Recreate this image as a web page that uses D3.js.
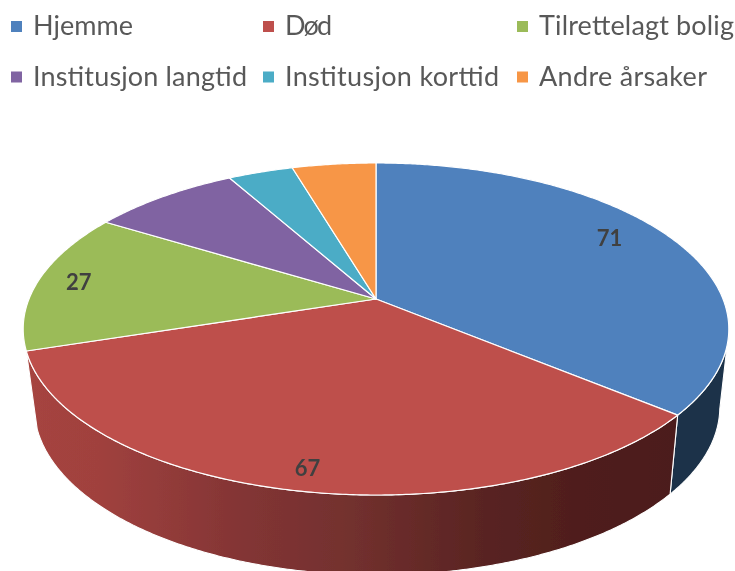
<!DOCTYPE html>
<html><head><meta charset="utf-8">
<script src="https://cdn.jsdelivr.net/npm/d3@7"></script>
<style>html,body{margin:0;padding:0;background:#fff}svg{display:block}</style>
</head><body><svg id="c" width="735" height="571"></svg>
<script>
const categories = ["Hjemme","Død","Tilrettelagt bolig","Institusjon langtid","Institusjon korttid","Andre årsaker"];
const values = [71,67,27,16,7,9];
const colors = ["#4F81BD","#BE4F4C","#9BBB59","#8064A2","#4BACC6","#F79646"];
const shownLabels = [true,true,true,false,false,false];

const svg = d3.select("#c");
const cols=[11,263,517], rows=[21,71.5];
const apex={x:376,y:299}, topFace={cy:329,rx:353,ry:166}, botFace={cx:377,cy:407,rx:343,ry:168};
const p=0.1807,A=347,B=160.6;

// perspective projection of the unit disc to the top face
function proj(t,r){
  const u=r*Math.sin(t), v=-r*Math.cos(t), k=1-p*v;
  return [apex.x+A*u/k, apex.y+B*v/k];
}
function down(P){
  const ex=(P[0]-apex.x)/topFace.rx, ey=(P[1]-topFace.cy)/topFace.ry;
  return [botFace.cx+botFace.rx*ex, botFace.cy+botFace.ry*ey];
}
const line=d3.line();
const pie=d3.pie().sort(null).value(d=>d).startAngle(0).endAngle(2*Math.PI);
const arcs=pie(values);
const sample=(a,b)=>{const n=Math.max(4,Math.ceil((b-a)*120));return d3.range(n+1).map(i=>a+(b-a)*i/n);};

const defs=svg.append("defs");
const grad=defs.append("linearGradient").attr("id","redSide").attr("gradientUnits","userSpaceOnUse")
  .attr("x1",27).attr("x2",680).attr("y1",0).attr("y2",0);
[[0,"#a6443f"],[0.11,"#a0413e"],[0.32,"#843535"],[0.5,"#72302e"],[0.7,"#592422"],[0.85,"#4f1e1c"],[1,"#4c1d1b"]]
 .forEach(s=>grad.append("stop").attr("offset",s[0]).attr("stop-color",s[1]));
defs.append("filter").attr("id","soft").attr("x","-2%").attr("y","-2%").attr("width","104%").attr("height","104%")
  .append("feGaussianBlur").attr("stdDeviation",0.55);
defs.append("filter").attr("id","softText").attr("x","-5%").attr("y","-20%").attr("width","110%").attr("height","140%")
  .append("feGaussianBlur").attr("stdDeviation",0.4);
const sideFill=["#1d3349","url(#redSide)",null,null,null,null];

const pieLayer=svg.append("g").attr("filter","url(#soft)");
const gSide=pieLayer.append("g");
arcs.forEach((a,i)=>{
  if(!sideFill[i])return;
  const pts=sample(a.startAngle,a.endAngle).map(t=>proj(t,1)).filter(P=>P[1]>=topFace.cy+2);
  const poly=pts.concat(pts.slice().reverse().map(down));
  gSide.append("path").attr("d",line(poly)+"Z").attr("fill",sideFill[i])
    .attr("stroke","#fff").attr("stroke-width",1.1).attr("stroke-linejoin","round");
});

const gTop=pieLayer.append("g");
arcs.forEach((a,i)=>{
  const pts=[[apex.x,apex.y]].concat(sample(a.startAngle,a.endAngle).map(t=>proj(t,1)));
  gTop.append("path").attr("d",line(pts)+"Z").attr("fill",colors[i])
    .attr("stroke","#fff").attr("stroke-width",1.2).attr("stroke-linejoin","round");
});

// data labels
const labelPlace=[{r:.83,da:-4.3},{r:.9,da:-0.35},{r:.88,da:0.2}];
arcs.forEach((a,i)=>{
  if(!shownLabels[i])return;
  const lp=labelPlace[i], P=proj((a.startAngle+a.endAngle)/2+lp.da*Math.PI/180,lp.r);
  svg.append("text").attr("x",P[0]).attr("y",P[1]+8).attr("text-anchor","middle")
    .attr("font-family","Lato").attr("font-weight",700).attr("font-size",22).attr("fill","#404040")
    .attr("filter","url(#softText)").text(values[i]);
});

// legend
const textWidth=[100,47,195,214,214,168];
categories.forEach((c,i)=>{
  const cx=cols[i%3], cy=rows[Math.floor(i/3)];
  svg.append("rect").attr("x",cx).attr("y",cy).attr("width",11).attr("height",11).attr("fill",colors[i]);
  svg.append("text").attr("x",cx+22).attr("y",cy+14).attr("font-family","Lato").attr("font-size",27)
    .attr("fill","#595959").attr("filter","url(#softText)")
    .attr("textLength",textWidth[i]).attr("lengthAdjust","spacing").text(c);
});
</script></body></html>
